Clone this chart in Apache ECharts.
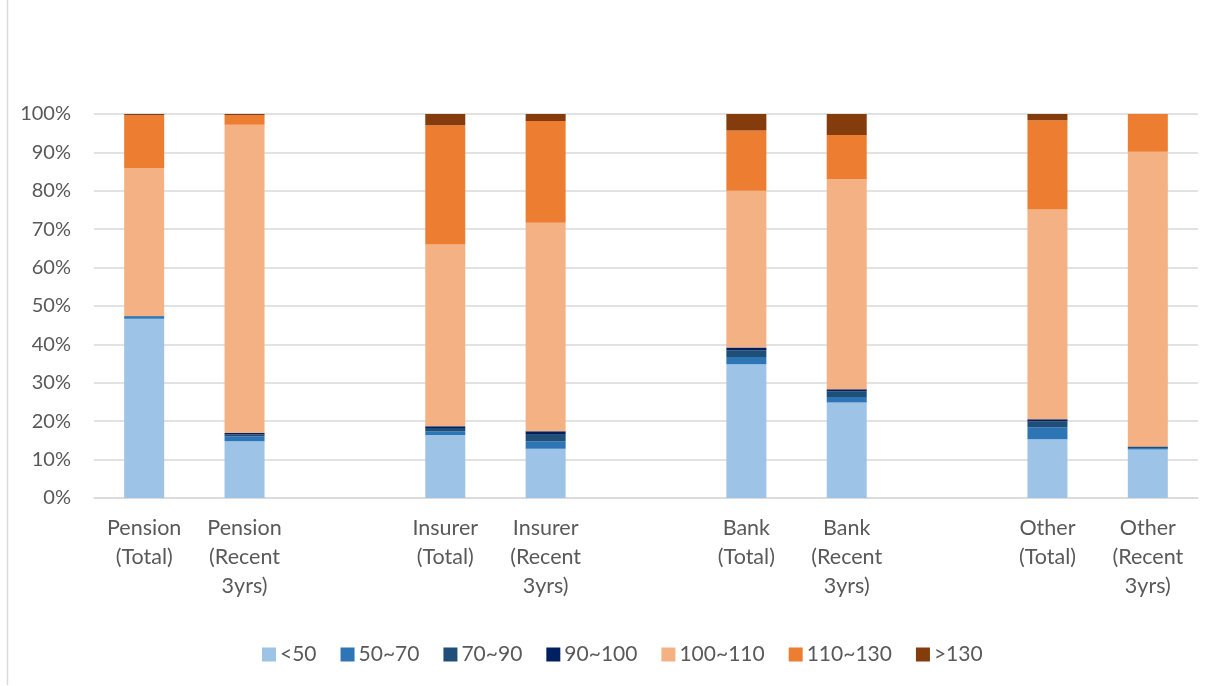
<!DOCTYPE html>
<html>
<head>
<meta charset="utf-8">
<script src="https://cdn.jsdelivr.net/npm/echarts@6/dist/echarts.min.js"></script>
<style>
  html, body { margin: 0; padding: 0; background: #ffffff; }
  #chart { width: 1219px; height: 686px; }
</style>
</head>
<body>
<div id="chart"></div>
<script>
// Investor groups; blank slots separate the four groups
const categories = [
  'Pension\n(Total)', 'Pension\n(Recent\n3yrs)', '',
  'Insurer\n(Total)', 'Insurer\n(Recent\n3yrs)', '',
  'Bank\n(Total)', 'Bank\n(Recent\n3yrs)', '',
  'Other\n(Total)', 'Other\n(Recent\n3yrs)'
];

// Share (%) of each bucket per group
const lt50     = [46.7, 14.8, null, 16.4, 12.8, null, 34.8, 24.9, null, 15.3, 12.6];
const r50_70   = [0.6, 1.3, null, 1.0, 1.9, null, 1.9, 1.4, null, 3.1, 0.4];
const r70_90   = [0.1, 0.5, null, 0.8, 1.8, null, 1.8, 1.5, null, 1.6, 0.3];
const r90_100  = [0.0, 0.3, null, 0.5, 0.9, null, 0.7, 0.5, null, 0.5, 0.1];
const r100_110 = [38.5, 80.3, null, 47.3, 54.3, null, 40.8, 54.7, null, 54.6, 76.8];
const r110_130 = [13.8, 2.5, null, 31.1, 26.5, null, 15.7, 11.5, null, 23.3, 9.8];
const gt130    = [0.3, 0.3, null, 2.9, 1.8, null, 4.3, 5.5, null, 1.6, 0.0];

const seriesNames = ['<50', '50~70', '70~90', '90~100', '100~110', '110~130', '>130'];
const seriesData = [lt50, r50_70, r70_90, r90_100, r100_110, r110_130, gt130];
const colors = ['#9DC3E6', '#2E75B6', '#1F4E79', '#002060', '#F4B183', '#ED7D31', '#843C0C'];

const yTicks = { min: 0, max: 100, interval: 10 };

const font = 'Lato, "Open Sans", sans-serif';
const textColor = '#595959';

const chart = echarts.init(document.getElementById('chart'), null, { renderer: 'canvas' });

chart.setOption({
  animation: false,
  backgroundColor: '#ffffff',
  color: colors,
  textStyle: { fontFamily: font },
  graphic: [{
    type: 'line',
    shape: { x1: 7.5, y1: 0, x2: 7.5, y2: 685 },
    style: { stroke: '#D9D9D9', lineWidth: 1.5 },
    silent: true
  }],
  grid: { left: 94, right: 21, top: 114, bottom: 188, containLabel: false },
  legend: {
    data: seriesNames,
    left: 262,
    top: 644,
    padding: 0,
    itemWidth: 14,
    itemHeight: 14,
    itemGap: 24,
    icon: 'rect',
    textStyle: { color: textColor, fontSize: 21, fontFamily: font, padding: [0, 0, 0, -1] }
  },
  xAxis: {
    type: 'category',
    data: categories,
    boundaryGap: true,
    axisLine: { show: true, lineStyle: { color: '#D9D9D9', width: 1.5 } },
    axisTick: { show: false },
    axisLabel: {
      interval: 0,
      color: textColor,
      fontSize: 21.5,
      fontFamily: font,
      lineHeight: 29,
      margin: 16,
      align: 'center'
    }
  },
  yAxis: {
    type: 'value',
    min: yTicks.min,
    max: yTicks.max,
    interval: yTicks.interval,
    axisLine: { show: false },
    axisTick: { show: false },
    splitLine: { lineStyle: { color: '#D9D9D9', width: 1.5 } },
    axisLabel: {
      formatter: '{value}%',
      color: textColor,
      fontSize: 20,
      fontFamily: font,
      margin: 23
    }
  },
  series: seriesNames.map((name, i) => ({
    name: name,
    type: 'bar',
    stack: 'total',
    barWidth: 40,
    data: seriesData[i],
    itemStyle: { color: colors[i] }
  }))
});
</script>
</body>
</html>
